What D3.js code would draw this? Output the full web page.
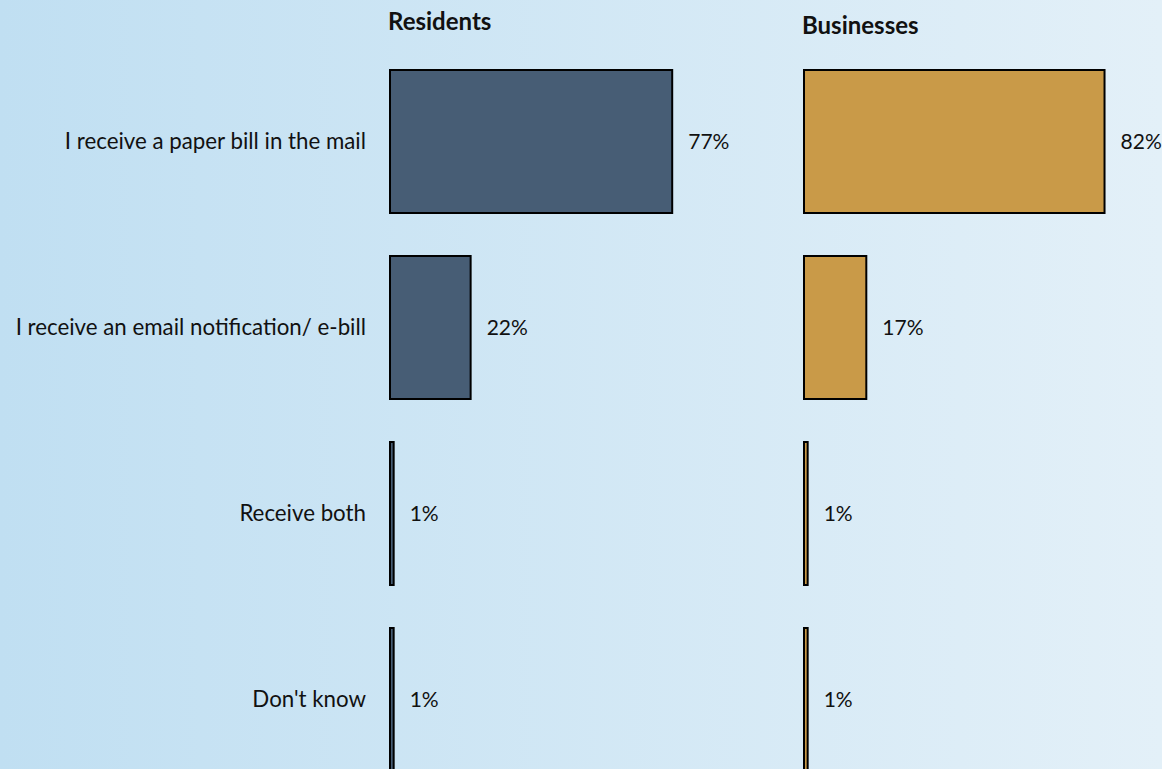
<!DOCTYPE html>
<html>
<head>
<meta charset="utf-8">
<script src="https://cdn.jsdelivr.net/npm/d3@7"></script>
<style>
  html, body { margin: 0; padding: 0; overflow: hidden; }
  svg { display: block; }
  text { font-family: Lato, "Open Sans", sans-serif; fill: #111; }
</style>
</head>
<body>
<script>
const categories = [
  "I receive a paper bill in the mail",
  "I receive an email notification/ e-bill",
  "Receive both",
  "Don't know"
];
const seriesNames = ["Residents", "Businesses"];
const residents = [77, 22, 1, 1];
const businesses = [82, 17, 1, 1];
const seriesColors = ["#475d75", "#c99a48"];

const W = 1162, H = 769;
const svg = d3.select("body").append("svg").attr("width", W).attr("height", H);

const defs = svg.append("defs");
const grad = defs.append("linearGradient").attr("id", "bg").attr("x1", 0).attr("x2", 1).attr("y1", 0).attr("y2", 0);
grad.append("stop").attr("offset", "0%").attr("stop-color", "#c0dff2");
grad.append("stop").attr("offset", "100%").attr("stop-color", "#e3f0f8");
svg.append("rect").attr("width", W).attr("height", H).attr("fill", "url(#bg)");

const y = d3.scaleBand()
  .domain(categories)
  .range([48.5, 48.5 + 186 * 4])
  .paddingInner(0.2312)
  .paddingOuter(0.1156);

const panelX = [390, 804];
const x = d3.scaleLinear().domain([0, 100]).range([0, 366.5]);

const series = [residents, businesses];

// category labels
svg.append("g").selectAll("text")
  .data(categories)
  .join("text")
  .attr("x", 366)
  .attr("y", d => y(d) + y.bandwidth() / 2)
  .attr("dy", "0.35em")
  .attr("text-anchor", "end")
  .attr("font-size", 22.3)
  .text(d => d);

series.forEach((vals, si) => {
  const g = svg.append("g").attr("transform", `translate(${panelX[si]},0)`);
  g.append("text")
    .attr("x", -2)
    .attr("y", si === 0 ? 30 : 34)
    .attr("font-size", 24)
    .attr("font-weight", "bold")
    .text(seriesNames[si]);

  g.selectAll("rect")
    .data(vals)
    .join("rect")
    .attr("x", 0)
    .attr("y", (d, i) => y(categories[i]))
    .attr("width", d => x(d))
    .attr("height", y.bandwidth())
    .attr("fill", seriesColors[si])
    .attr("stroke", "#000")
    .attr("stroke-width", 2);

  g.selectAll("text.val")
    .data(vals)
    .join("text")
    .attr("class", "val")
    .attr("x", d => x(d) + 16)
    .attr("y", (d, i) => y(categories[i]) + y.bandwidth() / 2)
    .attr("dy", "0.35em")
    .attr("font-size", 21)
    .text(d => d + "%");
});
</script>
</body>
</html>
